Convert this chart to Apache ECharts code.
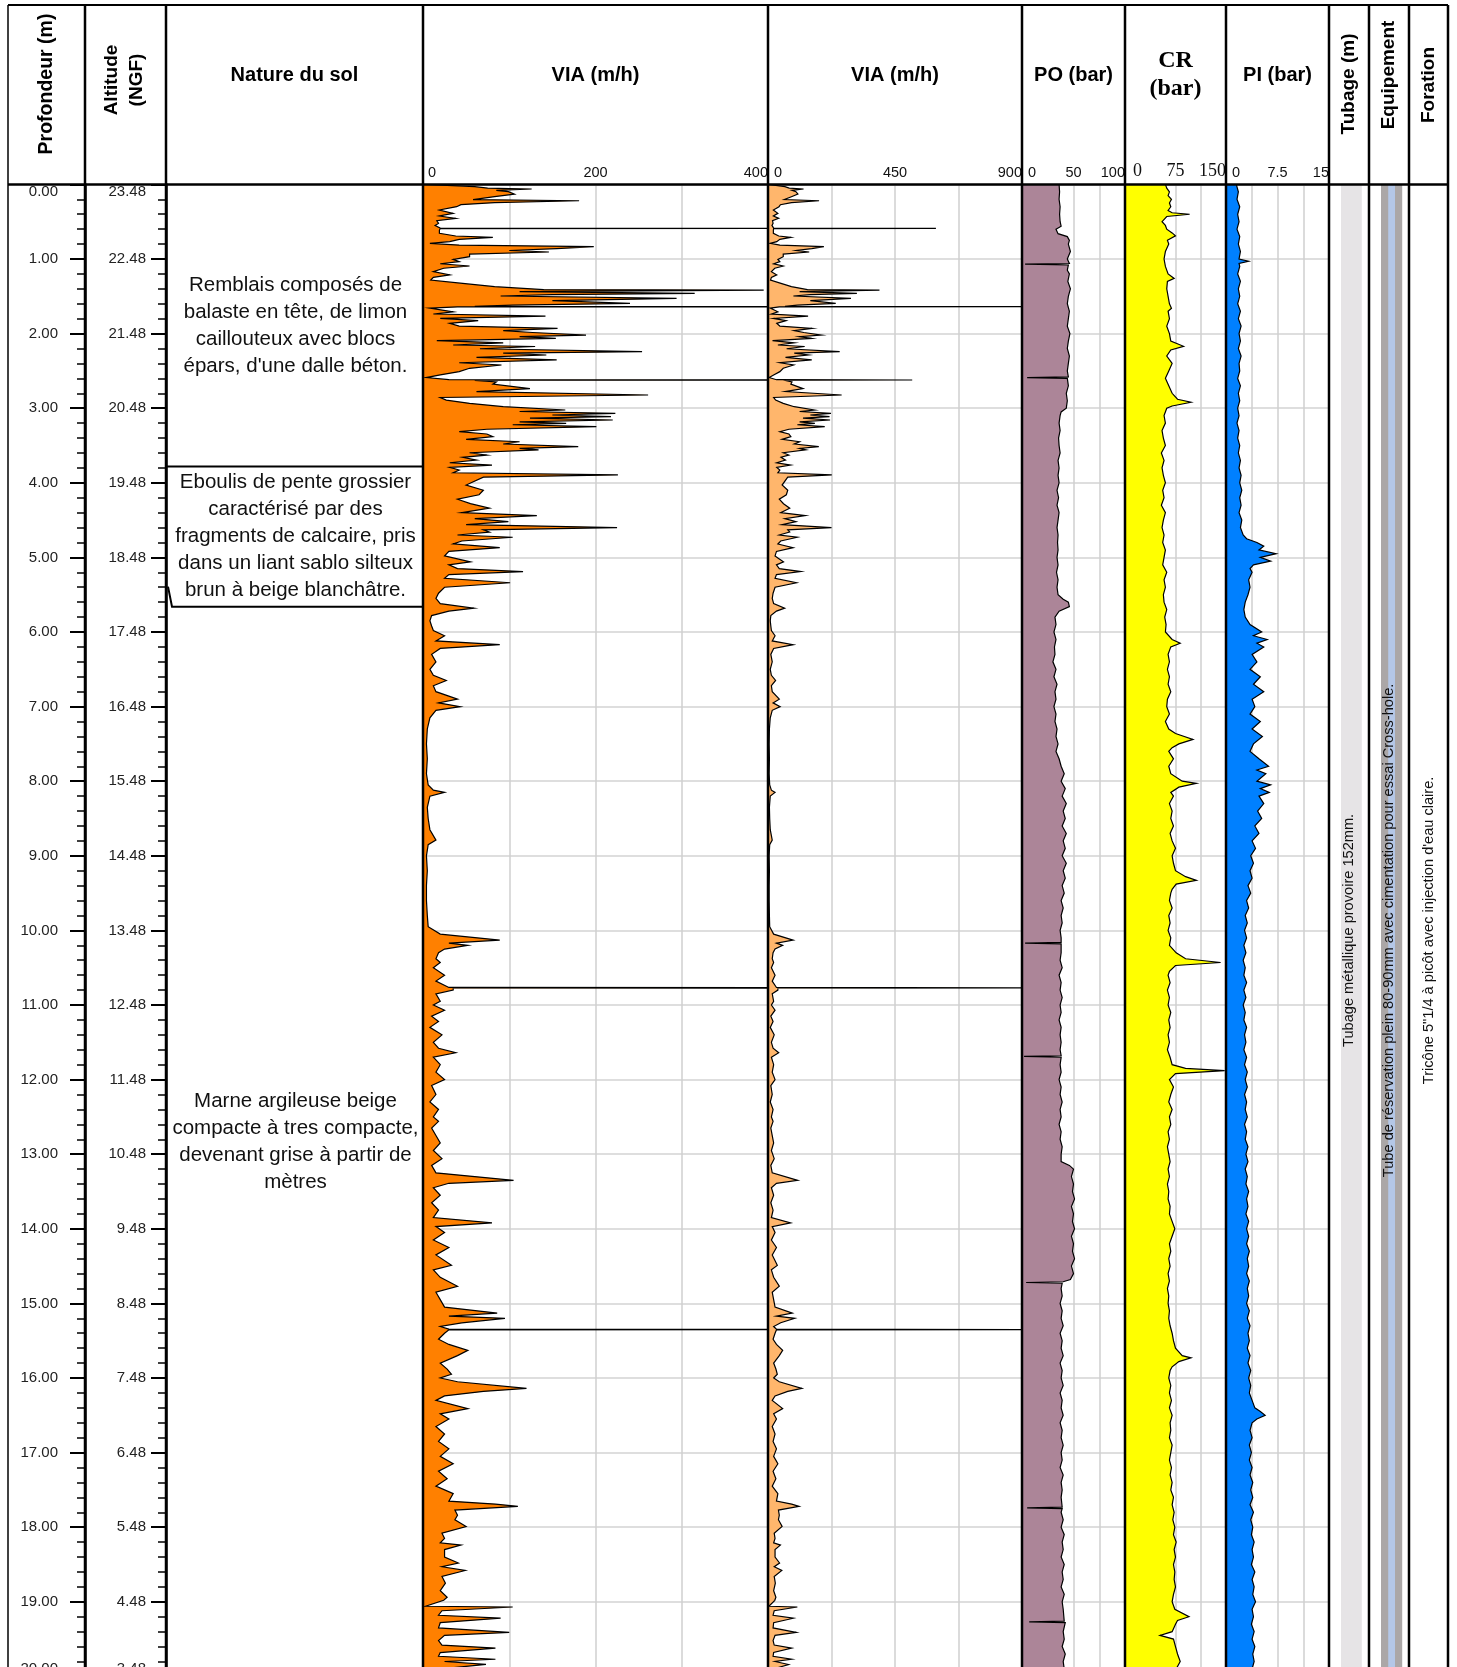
<!DOCTYPE html>
<html>
<head>
<meta charset="utf-8">
<script src="https://cdn.jsdelivr.net/npm/echarts@6/dist/echarts.min.js"></script>
<style>
html,body{margin:0;padding:0;background:#fff;}
#chart{width:1457px;height:1667px;}
</style>
</head>
<body>
<div id="chart"></div>
<script>
// ---------------- DATA ----------------
const groundLevel = 23.48; // altitude NGF at depth 0
const depthTicks = { min: 0, max: 20, step: 1 };

// Nature du sol : [top depth, bottom depth, description]
const soilLayers = [
  [0.00, 3.78, "Remblais composés de\nbalaste en tête, de limon\ncaillouteux avec blocs\népars, d'une dalle béton."],
  [3.78, 5.66, "Eboulis de pente grossier\ncaractérisé par des\nfragments de calcaire, pris\ndans un liant sablo silteux\nbrun à beige blanchâtre."],
  [5.66, 20.0, "Marne argileuse beige\ncompacte à tres compacte,\ndevenant grise à partir de\nmètres"]
];
const casing = [[0, 20.0, "Tubage métallique provoire 152mm."]];
const equipment = [[0, 20.0, "Tube de réservation plein 80-90mm avec cimentation pour essai Cross-hole."]];
const drilling = [[0, 20.0, "Tricône 5\"1/4 à picôt avec injection d'eau claire."]];

// VIA (m/h) : [depth, value]
const viaLog = [
[0,2],[0.03,60],[0.05,75],[0.062,126],[0.08,85],[0.098,99],[0.13,106],[0.165,83],[0.203,58],[0.219,181],[0.245,83],[0.272,44],[0.299,39],[0.343,19],[0.388,35],[0.424,19],[0.455,38],[0.487,16],[0.523,18],[0.55,14],[0.586,20],[0.589,595],[0.593,20],[0.612,19],[0.656,19],[0.692,38],[0.71,81],[0.737,42],[0.767,31],[0.79,8],[0.813,42],[0.835,198],[0.861,155],[0.886,100],[0.906,146],[0.934,54],[0.969,54],[1.005,35],[1.035,42],[1.064,20],[1.094,54],[1.124,24],[1.17,12],[1.213,31],[1.246,12],[1.282,9],[1.327,46],[1.371,83],[1.41,140],[1.416,395],[1.438,112],[1.46,315],[1.478,150],[1.496,90],[1.528,294],[1.559,150],[1.595,240],[1.619,104],[1.636,60],[1.638,950],[1.642,40],[1.658,8],[1.708,35],[1.737,12],[1.767,142],[1.797,20],[1.827,64],[1.863,31],[1.899,42],[1.93,156],[1.961,93],[1.985,127],[2.02,189],[2.041,112],[2.064,154],[2.094,16],[2.124,93],[2.153,35],[2.173,130],[2.203,66],[2.242,254],[2.262,93],[2.287,143],[2.319,62],[2.351,155],[2.391,42],[2.421,91],[2.465,54],[2.51,42],[2.554,20],[2.589,4],[2.618,30],[2.622,511],[2.627,60],[2.648,85],[2.678,81],[2.737,124],[2.777,62],[2.823,261],[2.856,20],[2.891,27],[2.935,54],[2.98,93],[3.024,165],[3.044,112],[3.069,223],[3.091,150],[3.114,218],[3.133,124],[3.158,220],[3.183,112],[3.203,166],[3.222,104],[3.248,201],[3.282,74],[3.315,42],[3.346,74],[3.381,81],[3.417,50],[3.45,112],[3.48,93],[3.516,180],[3.539,112],[3.559,134],[3.597,54],[3.628,74],[3.658,46],[3.696,62],[3.731,31],[3.762,80],[3.793,31],[3.829,42],[3.866,35],[3.895,226],[3.925,70],
[4.03,50],[4.1,70],[4.16,65],[4.22,40],[4.28,55],[4.34,77],[4.40,45],[4.44,132],[4.48,60],[4.52,99],[4.56,50],[4.60,225],[4.63,70],[4.66,77],[4.70,40],[4.73,104],[4.78,45],[4.82,35],[4.87,89],[4.92,30],[4.98,25],[5.02,40],[5.06,55],[5.10,30],[5.15,40],[5.19,116],[5.23,30],[5.28,25],[5.34,101],[5.40,25],[5.48,18],[5.55,15],[5.62,20],[5.68,59],[5.72,30],[5.78,10],[5.85,8],[5.92,10],[5.98,12],[6.05,25],[6.12,15],[6.17,89],[6.22,20],[6.3,10],[6.4,15],[6.5,8],[6.58,12],[6.65,27],[6.72,12],[6.8,15],[6.9,40],[6.95,18],[7.0,43],[7.05,15],[7.15,8],[7.3,5],[7.5,4],[7.7,5],[7.9,4],[8.05,6],[8.12,12],[8.15,25],[8.2,8],[8.35,5],[8.5,6],[8.65,8],[8.79,15],[8.85,6],[9.0,4],[9.2,5],[9.4,4],[9.6,4],[9.8,5],[9.95,6],
[10.05,20],[10.13,89],[10.17,30],[10.2,52],[10.25,25],[10.3,18],[10.38,15],[10.43,20],[10.5,12],[10.6,25],[10.68,15],[10.765,30],[10.77,950],[10.775,35],[10.8,35],[10.85,15],[10.95,20],[11.0,12],[11.07,25],[11.15,10],[11.22,18],[11.3,8],[11.4,22],[11.5,12],[11.58,18],[11.64,38],[11.7,12],[11.8,20],[11.9,15],[12.0,25],[12.08,10],[12.2,15],[12.3,8],[12.4,18],[12.5,12],[12.56,18],[12.65,10],[12.75,15],[12.85,20],[12.95,12],[13.06,22],[13.15,10],[13.25,15],[13.35,105],[13.39,30],[13.45,12],[13.55,20],[13.65,10],[13.75,18],[13.85,12],[13.92,80],[13.97,15],[14.05,25],[14.15,12],[14.25,30],[14.35,15],[14.49,33],[14.55,12],[14.65,20],[14.77,40],[14.85,15],[14.95,20],[15.05,25],[15.13,86],[15.17,30],[15.2,95],[15.26,45],[15.31,20],[15.345,30],[15.35,950],[15.355,30],[15.4,25],[15.48,18],[15.55,30],[15.63,52],[15.7,40],[15.8,20],[15.88,28],[15.95,33],[16.0,20],[16.05,40],[16.14,120],[16.18,70],[16.24,25],[16.3,15],[16.41,52],[16.48,20],[16.55,30],[16.65,15],[16.75,25],[16.85,18],[16.95,30],[17.05,20],[17.15,35],[17.25,18],[17.35,28],[17.45,15],[17.55,35],[17.65,30],[17.69,84],[17.72,110],[17.77,37],[17.84,40],[17.9,37],[17.99,50],[18.08,22],[18.15,25],[18.21,20],[18.24,44],[18.3,25],[18.4,25],[18.48,41],[18.53,22],[18.58,49],[18.66,22],[18.75,26],[18.85,20],[18.94,28],[18.98,24],[19.06,3],[19.07,104],[19.12,22],[19.18,18],[19.22,90],[19.28,20],[19.35,18],[19.41,100],[19.45,25],[19.52,18],[19.58,22],[19.62,84],[19.68,20],[19.73,18],[19.77,84],[19.8,25],[19.84,73],[19.9,20],[20.0,30]
];

// PO (bar) : [depth, value]
const poLog = [
[0,36],[0.1,36.5],[0.2,36],[0.3,37],[0.4,36.5],[0.5,37],[0.56,38],[0.6,33],[0.66,35],[0.7,44],[0.75,46],[0.8,45],[0.9,47],[1.0,44],[1.06,46],[1.07,3],[1.08,45],[1.15,44],[1.2,46],[1.3,44.5],[1.4,47],[1.5,45],[1.6,44],[1.7,46],[1.8,45],[1.9,44],[2.0,46.5],[2.1,45],[2.2,44],[2.3,46],[2.4,45],[2.5,44],[2.58,45],[2.59,5],[2.6,44],[2.7,45],[2.8,43],[2.9,44],[3.0,43],[3.05,38],[3.1,37],[3.2,36],[3.3,37],[3.4,35.5],[3.5,36],[3.6,37],[3.7,35],[3.8,36],[3.9,35],[4.0,36],[4.1,34],[4.2,35.5],[4.3,34],[4.4,36],[4.5,35],[4.6,34],[4.7,35],[4.8,34.5],[4.9,35],[5.0,34],[5.1,35],[5.2,33.5],[5.3,35],[5.4,34],[5.5,35],[5.56,40],[5.6,45],[5.66,46],[5.72,36],[5.8,32],[5.9,33],[6.0,31],[6.1,33],[6.2,31.5],[6.3,32],[6.4,30],[6.5,33],[6.6,31],[6.7,34],[6.8,32],[6.9,33],[7.0,31],[7.1,33],[7.2,32],[7.3,34],[7.4,33],[7.5,35],[7.6,33],[7.7,36],[7.8,38],[7.9,41],[8.0,38],[8.1,42],[8.2,39],[8.3,43],[8.4,40],[8.5,42],[8.6,39],[8.7,43],[8.8,40],[8.9,42],[9.0,39],[9.1,43],[9.2,40],[9.3,42],[9.4,39],[9.5,41],[9.6,38],[9.7,40],[9.8,38],[9.9,39],[10.0,37],[10.1,38],[10.16,38],[10.17,3],[10.18,38],[10.3,38],[10.4,37],[10.5,39],[10.6,36],[10.7,38],[10.8,37],[10.9,39],[11.0,37],[11.1,38],[11.2,36],[11.3,38],[11.4,37],[11.5,38],[11.6,37],[11.68,38],[11.69,2],[11.7,38],[11.8,37],[11.9,38],[12.0,36],[12.1,38],[12.2,37],[12.3,39],[12.4,37],[12.5,38],[12.6,36],[12.7,38],[12.8,37],[12.9,39],[13.0,38],[13.1,38],[13.15,46],[13.2,50],[13.3,48],[13.4,50],[13.5,49],[13.6,51],[13.7,48],[13.8,50],[13.9,49],[14.0,51],[14.1,48],[14.2,50],[14.3,49],[14.4,51],[14.5,48],[14.6,50],[14.68,47],[14.71,40],[14.72,4],[14.73,39],[14.8,38],[14.9,39],[15.0,37],[15.1,39],[15.2,38],[15.3,40],[15.4,37],[15.5,39],[15.6,38],[15.7,40],[15.8,37],[15.9,39],[16.0,38],[16.1,40],[16.2,37],[16.3,39],[16.4,38],[16.5,40],[16.6,37],[16.7,39],[16.8,38],[16.9,40],[17.0,38],[17.1,39],[17.2,37],[17.3,40],[17.4,38],[17.5,39],[17.6,38],[17.73,39],[17.74,5],[17.75,39],[17.8,38],[17.9,40],[18.0,38],[18.1,41],[18.2,39],[18.3,40],[18.4,38],[18.5,41],[18.6,39],[18.7,40],[18.8,38],[18.9,41],[19.0,39],[19.1,40],[19.26,41],[19.27,7],[19.28,42],[19.4,40],[19.5,41],[19.6,39],[19.7,42],[19.8,40],[19.9,41],[20.0,40]
];

// CR (bar) : [depth, value]
const crLog = [
[0,60],[0.05,62],[0.1,66],[0.15,64],[0.2,69],[0.25,66],[0.3,68],[0.35,64],[0.38,70],[0.4,96],[0.43,62],[0.5,55],[0.55,60],[0.6,62],[0.65,70],[0.69,75],[0.75,63],[0.8,65],[0.9,60],[1.0,58],[1.1,60],[1.2,64],[1.26,73],[1.3,63],[1.4,62],[1.5,64],[1.6,66],[1.66,69],[1.7,64],[1.8,66],[1.9,62],[2.0,66],[2.1,68],[2.17,87],[2.22,68],[2.3,62],[2.4,70],[2.5,65],[2.6,60],[2.7,65],[2.8,70],[2.88,78],[2.92,98],[2.97,70],[3.0,62],[3.1,58],[3.2,60],[3.3,55],[3.4,57],[3.5,60],[3.6,54],[3.7,58],[3.8,55],[3.9,57],[4.0,60],[4.1,56],[4.2,58],[4.3,54],[4.4,60],[4.5,57],[4.6,55],[4.7,58],[4.8,56],[4.9,60],[5.0,58],[5.1,56],[5.2,62],[5.3,58],[5.4,60],[5.5,57],[5.6,58],[5.7,62],[5.8,59],[5.9,61],[6.0,60],[6.1,70],[6.15,82],[6.2,68],[6.3,64],[6.4,66],[6.5,63],[6.6,66],[6.7,64],[6.8,68],[6.9,63],[7.0,62],[7.1,66],[7.2,60],[7.3,65],[7.36,75],[7.44,101],[7.5,80],[7.55,70],[7.6,65],[7.7,72],[7.8,65],[7.9,68],[8.0,85],[8.03,106],[8.08,80],[8.15,68],[8.2,72],[8.3,66],[8.4,70],[8.5,68],[8.6,72],[8.7,67],[8.8,70],[8.9,75],[9.0,70],[9.1,72],[9.2,75],[9.28,90],[9.33,106],[9.38,76],[9.45,70],[9.5,68],[9.6,66],[9.7,70],[9.8,65],[9.9,67],[10.0,64],[10.1,68],[10.2,66],[10.3,76],[10.38,90],[10.43,142],[10.47,75],[10.55,66],[10.6,64],[10.7,67],[10.8,63],[10.9,66],[11.0,64],[11.1,68],[11.2,65],[11.3,67],[11.4,64],[11.5,66],[11.6,63],[11.7,67],[11.8,70],[11.85,90],[11.88,148],[11.92,75],[12.0,66],[12.1,72],[12.2,68],[12.3,65],[12.4,70],[12.5,66],[12.6,68],[12.7,64],[12.8,66],[12.9,63],[13.0,65],[13.1,67],[13.2,64],[13.3,66],[13.4,63],[13.5,65],[13.6,64],[13.7,67],[13.8,66],[13.9,70],[14.0,74],[14.1,70],[14.2,66],[14.3,68],[14.4,65],[14.5,67],[14.6,64],[14.7,66],[14.8,63],[14.9,65],[15.0,64],[15.1,66],[15.2,65],[15.3,67],[15.4,70],[15.5,72],[15.6,75],[15.7,85],[15.73,98],[15.78,80],[15.85,70],[15.9,67],[16.0,65],[16.1,68],[16.2,66],[16.3,69],[16.4,66],[16.5,70],[16.6,67],[16.7,68],[16.8,66],[16.9,70],[17.0,68],[17.1,66],[17.2,69],[17.3,67],[17.4,70],[17.5,68],[17.6,72],[17.7,70],[17.8,73],[17.9,71],[18.0,74],[18.1,72],[18.2,76],[18.3,73],[18.4,75],[18.5,72],[18.6,74],[18.7,73],[18.8,75],[18.9,72],[19.0,70],[19.1,74],[19.2,95],[19.25,78],[19.3,75],[19.4,70],[19.45,52],[19.5,72],[19.6,75],[19.7,78],[19.8,82],[19.9,76],[20.0,80]
];

// PI (bar) : [depth, value]
const piLog = [
[0,1.5],[0.1,1.8],[0.2,1.6],[0.3,2.0],[0.4,1.7],[0.5,1.9],[0.6,1.6],[0.7,2.0],[0.8,1.8],[0.9,2.1],[1.0,1.9],[1.03,3.3],[1.06,1.9],[1.1,2.0],[1.2,1.7],[1.3,2.1],[1.4,1.8],[1.5,2.0],[1.6,1.7],[1.7,2.1],[1.8,1.8],[1.9,2.2],[2.0,1.9],[2.1,2.1],[2.2,1.8],[2.3,2.2],[2.4,1.9],[2.5,2.0],[2.6,1.7],[2.7,2.1],[2.8,1.8],[2.9,2.0],[3.0,1.7],[3.1,1.9],[3.2,1.6],[3.3,1.9],[3.4,1.7],[3.5,2.0],[3.6,1.8],[3.7,2.1],[3.8,1.9],[3.9,2.2],[4.0,2.0],[4.1,2.3],[4.2,2.0],[4.3,2.2],[4.4,1.9],[4.5,2.3],[4.6,2.1],[4.7,2.5],[4.75,3.0],[4.8,4.5],[4.85,5.5],[4.9,4.8],[4.95,7.3],[5.0,5.0],[5.05,6.5],[5.1,4.0],[5.15,3.5],[5.2,3.8],[5.3,3.3],[5.4,3.5],[5.5,3.2],[5.6,2.8],[5.7,2.6],[5.8,2.8],[5.9,3.5],[6.0,5.2],[6.05,4.0],[6.1,6.0],[6.15,4.5],[6.2,5.5],[6.3,3.8],[6.4,4.5],[6.5,3.5],[6.6,5.0],[6.7,4.0],[6.8,5.5],[6.9,3.8],[7.0,4.2],[7.1,3.5],[7.2,5.0],[7.3,3.8],[7.4,5.3],[7.5,4.0],[7.6,3.5],[7.7,4.8],[7.8,6.2],[7.85,4.5],[7.9,5.8],[8.0,4.5],[8.05,6.5],[8.1,5.0],[8.15,6.3],[8.2,4.8],[8.3,5.5],[8.4,4.6],[8.5,5.2],[8.6,4.2],[8.7,4.8],[8.8,3.8],[8.9,4.3],[9.0,3.6],[9.1,4.0],[9.2,3.5],[9.3,3.8],[9.4,3.2],[9.5,3.6],[9.6,3.0],[9.7,3.3],[9.8,2.8],[9.9,3.1],[10.0,2.7],[10.1,3.0],[10.2,2.6],[10.3,2.9],[10.4,2.5],[10.5,2.8],[10.6,2.6],[10.7,3.0],[10.8,2.6],[10.9,2.9],[11.0,2.5],[11.1,2.8],[11.2,2.6],[11.3,3.0],[11.4,2.7],[11.5,2.9],[11.6,2.6],[11.7,3.0],[11.8,2.7],[11.9,3.1],[12.0,2.8],[12.1,3.1],[12.2,2.7],[12.3,3.0],[12.4,2.8],[12.5,3.1],[12.6,2.7],[12.7,3.0],[12.8,2.8],[12.9,3.2],[13.0,2.9],[13.1,3.2],[13.2,2.8],[13.3,3.1],[13.4,2.9],[13.5,3.3],[13.6,3.0],[13.7,3.2],[13.8,2.9],[13.9,3.3],[14.0,3.0],[14.1,3.3],[14.2,3.0],[14.3,3.4],[14.4,3.1],[14.5,3.3],[14.6,3.0],[14.7,3.4],[14.8,3.1],[14.9,3.3],[15.0,3.0],[15.1,3.4],[15.2,3.1],[15.3,3.5],[15.4,3.2],[15.5,3.4],[15.6,3.1],[15.7,3.5],[15.8,3.2],[15.9,3.6],[16.0,3.3],[16.1,3.6],[16.2,3.4],[16.3,3.8],[16.4,4.2],[16.45,5.0],[16.5,5.7],[16.55,4.5],[16.6,3.8],[16.7,3.5],[16.8,3.8],[16.9,3.4],[17.0,3.7],[17.1,3.4],[17.2,3.8],[17.3,3.5],[17.4,3.9],[17.5,3.6],[17.6,3.9],[17.7,3.5],[17.8,4.0],[17.9,3.6],[18.0,3.9],[18.1,3.7],[18.2,4.1],[18.3,3.8],[18.4,4.0],[18.5,3.7],[18.6,4.2],[18.7,3.8],[18.8,4.1],[18.9,3.9],[19.0,4.3],[19.1,3.8],[19.2,4.0],[19.3,3.7],[19.4,4.1],[19.5,3.8],[19.6,4.2],[19.7,3.9],[19.8,4.1],[19.9,3.8],[20.0,4.0]
];

// track scales: [max, gridline interval, labelled values]
const viaScaleA = [400, 100, [0, 200, 400]];
const viaScaleB = [900, 225, [0, 450, 900]];
const poScale = [100, 25, [0, 50, 100]];
const crScale = [150, 37.5, [0, 75, 150]];
const piScale = [15, 3.75, [0, 7.5, 15]];

// ---------------- LAYOUT ----------------
const SANS = "'Liberation Sans',Arial,sans-serif";
const SERIF = "'Liberation Serif','Times New Roman',serif";
const COLS = [8, 85, 166, 423, 768, 1022, 1125, 1226, 1329, 1369, 1409, 1448];
const TOP = 5, HEAD = 184.4, PLOT_H = 1492;

const chart = echarts.init(document.getElementById('chart'), null, { renderer: 'canvas' });

const grids = [];
for (let i = 1; i < COLS.length - 1; i++) {
  grids.push({ left: COLS[i], top: HEAD, width: COLS[i + 1] - COLS[i], height: PLOT_H,
    containLabel: false, outerBoundsMode: 'none' });
}

const hiddenX = (gi) => ({ gridIndex: gi, type: 'value', min: 0, max: 1, show: false });
const trackX = (gi, sc, font, padMin) => ({
  gridIndex: gi, type: 'value', position: 'top', min: 0, max: sc[0], interval: sc[1],
  axisLine: { show: false }, axisTick: { show: false },
  axisLabel: {
    show: true, margin: 4, color: '#111', fontFamily: font.family, fontSize: font.size,
    verticalAlign: 'bottom', alignMinLabel: 'left', alignMaxLabel: 'right',
    formatter: (v) => {
      if (!sc[2].some(t => Math.abs(t - v) < 1e-6)) return '';
      return v === 0 ? '{lo|' + v + '}' : String(v);
    },
    rich: { lo: { padding: [0, 0, 0, padMin], fontFamily: font.family, fontSize: font.size, color: '#111' } }
  },
  splitLine: { show: true, lineStyle: { color: '#cfcfcf', width: 1.5 } }
});
const depthY = (gi, extra) => Object.assign({
  gridIndex: gi, type: 'value', inverse: true, min: depthTicks.min, max: depthTicks.max, interval: depthTicks.step,
  axisLine: { show: false }, axisTick: { show: false }, axisLabel: { show: false },
  splitLine: { show: false }
}, extra || {});

const scaleAxisY = (gi, fmt, margin) => depthY(gi, {
  position: 'left',
  axisLine: { show: true, onZero: false, lineStyle: { color: '#000', width: 2.5 } },
  axisTick: { show: true, length: 15, lineStyle: { color: '#000', width: 2 } },
  minorTick: { show: true, splitNumber: 5, length: 8, lineStyle: { color: '#000', width: 1.5 } },
  axisLabel: {
    show: true, margin: margin, color: '#222', fontFamily: SANS, fontSize: 15,
    verticalAlignMinLabel: 'top', verticalAlignMaxLabel: 'bottom',
    formatter: fmt
  }
});

const xAxes = [
  hiddenX(0), hiddenX(1),
  trackX(2, viaScaleA, { family: SANS, size: 14.5 }, 5),
  trackX(3, viaScaleB, { family: SANS, size: 14.5 }, 6),
  trackX(4, poScale, { family: SANS, size: 14.5 }, 6),
  trackX(5, crScale, { family: SERIF, size: 18 }, 8),
  trackX(6, piScale, { family: SANS, size: 14.5 }, 6),
  hiddenX(7), hiddenX(8), hiddenX(9)
];
const gridLineY = { splitLine: { show: true, lineStyle: { color: '#d3d3d3', width: 1.5 } } };
const yAxes = [
  scaleAxisY(0, (v) => v.toFixed(2), 27),
  scaleAxisY(1, (v) => (groundLevel - v).toFixed(2), 20),
  depthY(2, gridLineY), depthY(3, gridLineY), depthY(4, gridLineY), depthY(5, gridLineY), depthY(6, gridLineY),
  depthY(7), depthY(8), depthY(9)
];

function clipOf(params) {
  const c = params.coordSys;
  return { type: 'rect', shape: { x: c.x, y: c.y, width: c.width, height: c.height } };
}

function logSeries(name, gi, log, fill) {
  return {
    type: 'custom', name, xAxisIndex: gi, yAxisIndex: gi, clip: true, z: 3,
    data: log.map(p => [p[1], p[0]]),
    encode: { x: 0, y: 1 },
    renderItem(params, api) {
      if (params.dataIndex !== 0) return null;
      const pts = log.map(p => api.coord([p[1], p[0]]));
      const b0 = api.coord([0, log[0][0]]);
      const b1 = api.coord([0, log[log.length - 1][0]]);
      return {
        type: 'group', clipPath: clipOf(params),
        children: [
          { type: 'polygon', shape: { points: [b0].concat(pts, [b1]) }, style: { fill: fill, stroke: null } },
          { type: 'polyline', shape: { points: [b0].concat(pts) }, style: { stroke: '#000', lineWidth: 1.2, fill: null } }
        ]
      };
    }
  };
}

const soilSeries = {
  type: 'custom', xAxisIndex: 1, yAxisIndex: 1, z: 3,
  data: soilLayers.map(l => [0, l[0], l[1]]),
  renderItem(params, api) {
    const l = soilLayers[params.dataIndex];
    const tl = api.coord([0, l[0]]), br = api.coord([1, l[1]]);
    const children = [];
    if (l[0] > 0) {
      if (params.dataIndex === soilLayers.length - 1) {
        children.push({ type: 'polyline', shape: { points: [[tl[0] + 2, tl[1] - 20], [tl[0] + 6, tl[1]], [br[0], tl[1]]] },
          style: { stroke: '#000', lineWidth: 2, fill: null } });
      } else {
        children.push({ type: 'line', shape: { x1: tl[0], y1: tl[1], x2: br[0], y2: tl[1] }, style: { stroke: '#000', lineWidth: 2 } });
      }
    }
    children.push({ type: 'text', x: (tl[0] + br[0]) / 2 + 1, y: (tl[1] + br[1]) / 2,
      style: { text: l[2], align: 'center', verticalAlign: 'middle', font: '20.5px ' + SANS, lineHeight: 27, fill: '#111' } });
    return { type: 'group', clipPath: clipOf(params), children };
  }
};

function columnSeries(gi, rows, bands) {
  return {
    type: 'custom', xAxisIndex: gi, yAxisIndex: gi, z: 3,
    data: rows.map(r => [0, r[0], r[1]]),
    renderItem(params, api) {
      const r = rows[params.dataIndex];
      const children = [];
      bands.forEach(b => {
        const a = api.coord([b[0], r[0]]), z = api.coord([b[1], r[1]]);
        children.push({ type: 'rect', shape: { x: a[0], y: a[1], width: z[0] - a[0], height: z[1] - a[1] }, style: { fill: b[2] } });
      });
      const c0 = api.coord([0.5, (r[0] + r[1]) / 2]);
      children.push({ type: 'text', x: c0[0], y: c0[1], rotation: Math.PI / 2,
        style: { text: r[2], align: 'center', verticalAlign: 'middle', font: '14.6px ' + SANS, fill: '#111' } });
      return { type: 'group', clipPath: clipOf(params), children };
    }
  };
}

// ---------- frame & headers (static layout) ----------
const graphic = [];
COLS.forEach((x, i) => {
  graphic.push({ type: 'line', z: 100, shape: { x1: x, y1: TOP, x2: x, y2: 1667 },
    style: { stroke: '#000', lineWidth: i === 0 ? 1.5 : 2.5 } });
});
graphic.push({ type: 'line', z: 100, shape: { x1: COLS[0], y1: TOP, x2: COLS[11], y2: TOP }, style: { stroke: '#000', lineWidth: 2 } });
graphic.push({ type: 'line', z: 100, shape: { x1: COLS[0], y1: HEAD, x2: COLS[11], y2: HEAD }, style: { stroke: '#000', lineWidth: 2.5 } });

function head(text, x, y, opt) {
  opt = opt || {};
  graphic.push({ type: 'text', z: 101, x, y, rotation: opt.rot ? Math.PI / 2 : 0,
    style: { text, align: 'center', verticalAlign: 'middle',
      font: 'bold ' + (opt.size || 20) + 'px ' + (opt.family || SANS), lineHeight: opt.lh || 24, fill: '#000' } });
}
head('Profondeur (m)', 46.5, 84, { rot: true, size: 19.5 });
head('Altitude\n(NGF)', 124, 80, { rot: true, size: 19, lh: 25 });
head('Nature du sol', 294.5, 75);
head('VIA (m/h)', 595.5, 75);
head('VIA (m/h)', 895, 75);
head('PO (bar)', 1073.5, 75);
head('CR\n(bar)', 1175.5, 75, { family: SERIF, size: 24, lh: 28 });
head('PI (bar)', 1277.5, 75);
head('Tubage (m)', 1349, 84, { rot: true, size: 19 });
head('Equipement', 1389, 75, { rot: true, size: 19 });
head('Foration', 1428.5, 85, { rot: true, size: 19 });

const option = {
  animation: false,
  backgroundColor: '#fff',
  grid: grids,
  xAxis: xAxes,
  yAxis: yAxes,
  graphic: graphic,
  series: [
    soilSeries,
    logSeries('VIA', 2, viaLog, '#FF8000'),
    logSeries('VIA', 3, viaLog, '#FFB66C'),
    logSeries('PO', 4, poLog, '#AC8598'),
    logSeries('CR', 5, crLog, '#FFFF00'),
    logSeries('PI', 6, piLog, '#0080FF'),
    columnSeries(7, casing, [[0.3, 0.82, '#E6E4E6']]),
    columnSeries(8, equipment, [[0.3, 0.83, '#ABA7A7'], [0.48, 0.65, '#B4C7E7']]),
    columnSeries(9, drilling, [])
  ]
};
chart.setOption(option);
</script>
</body>
</html>
